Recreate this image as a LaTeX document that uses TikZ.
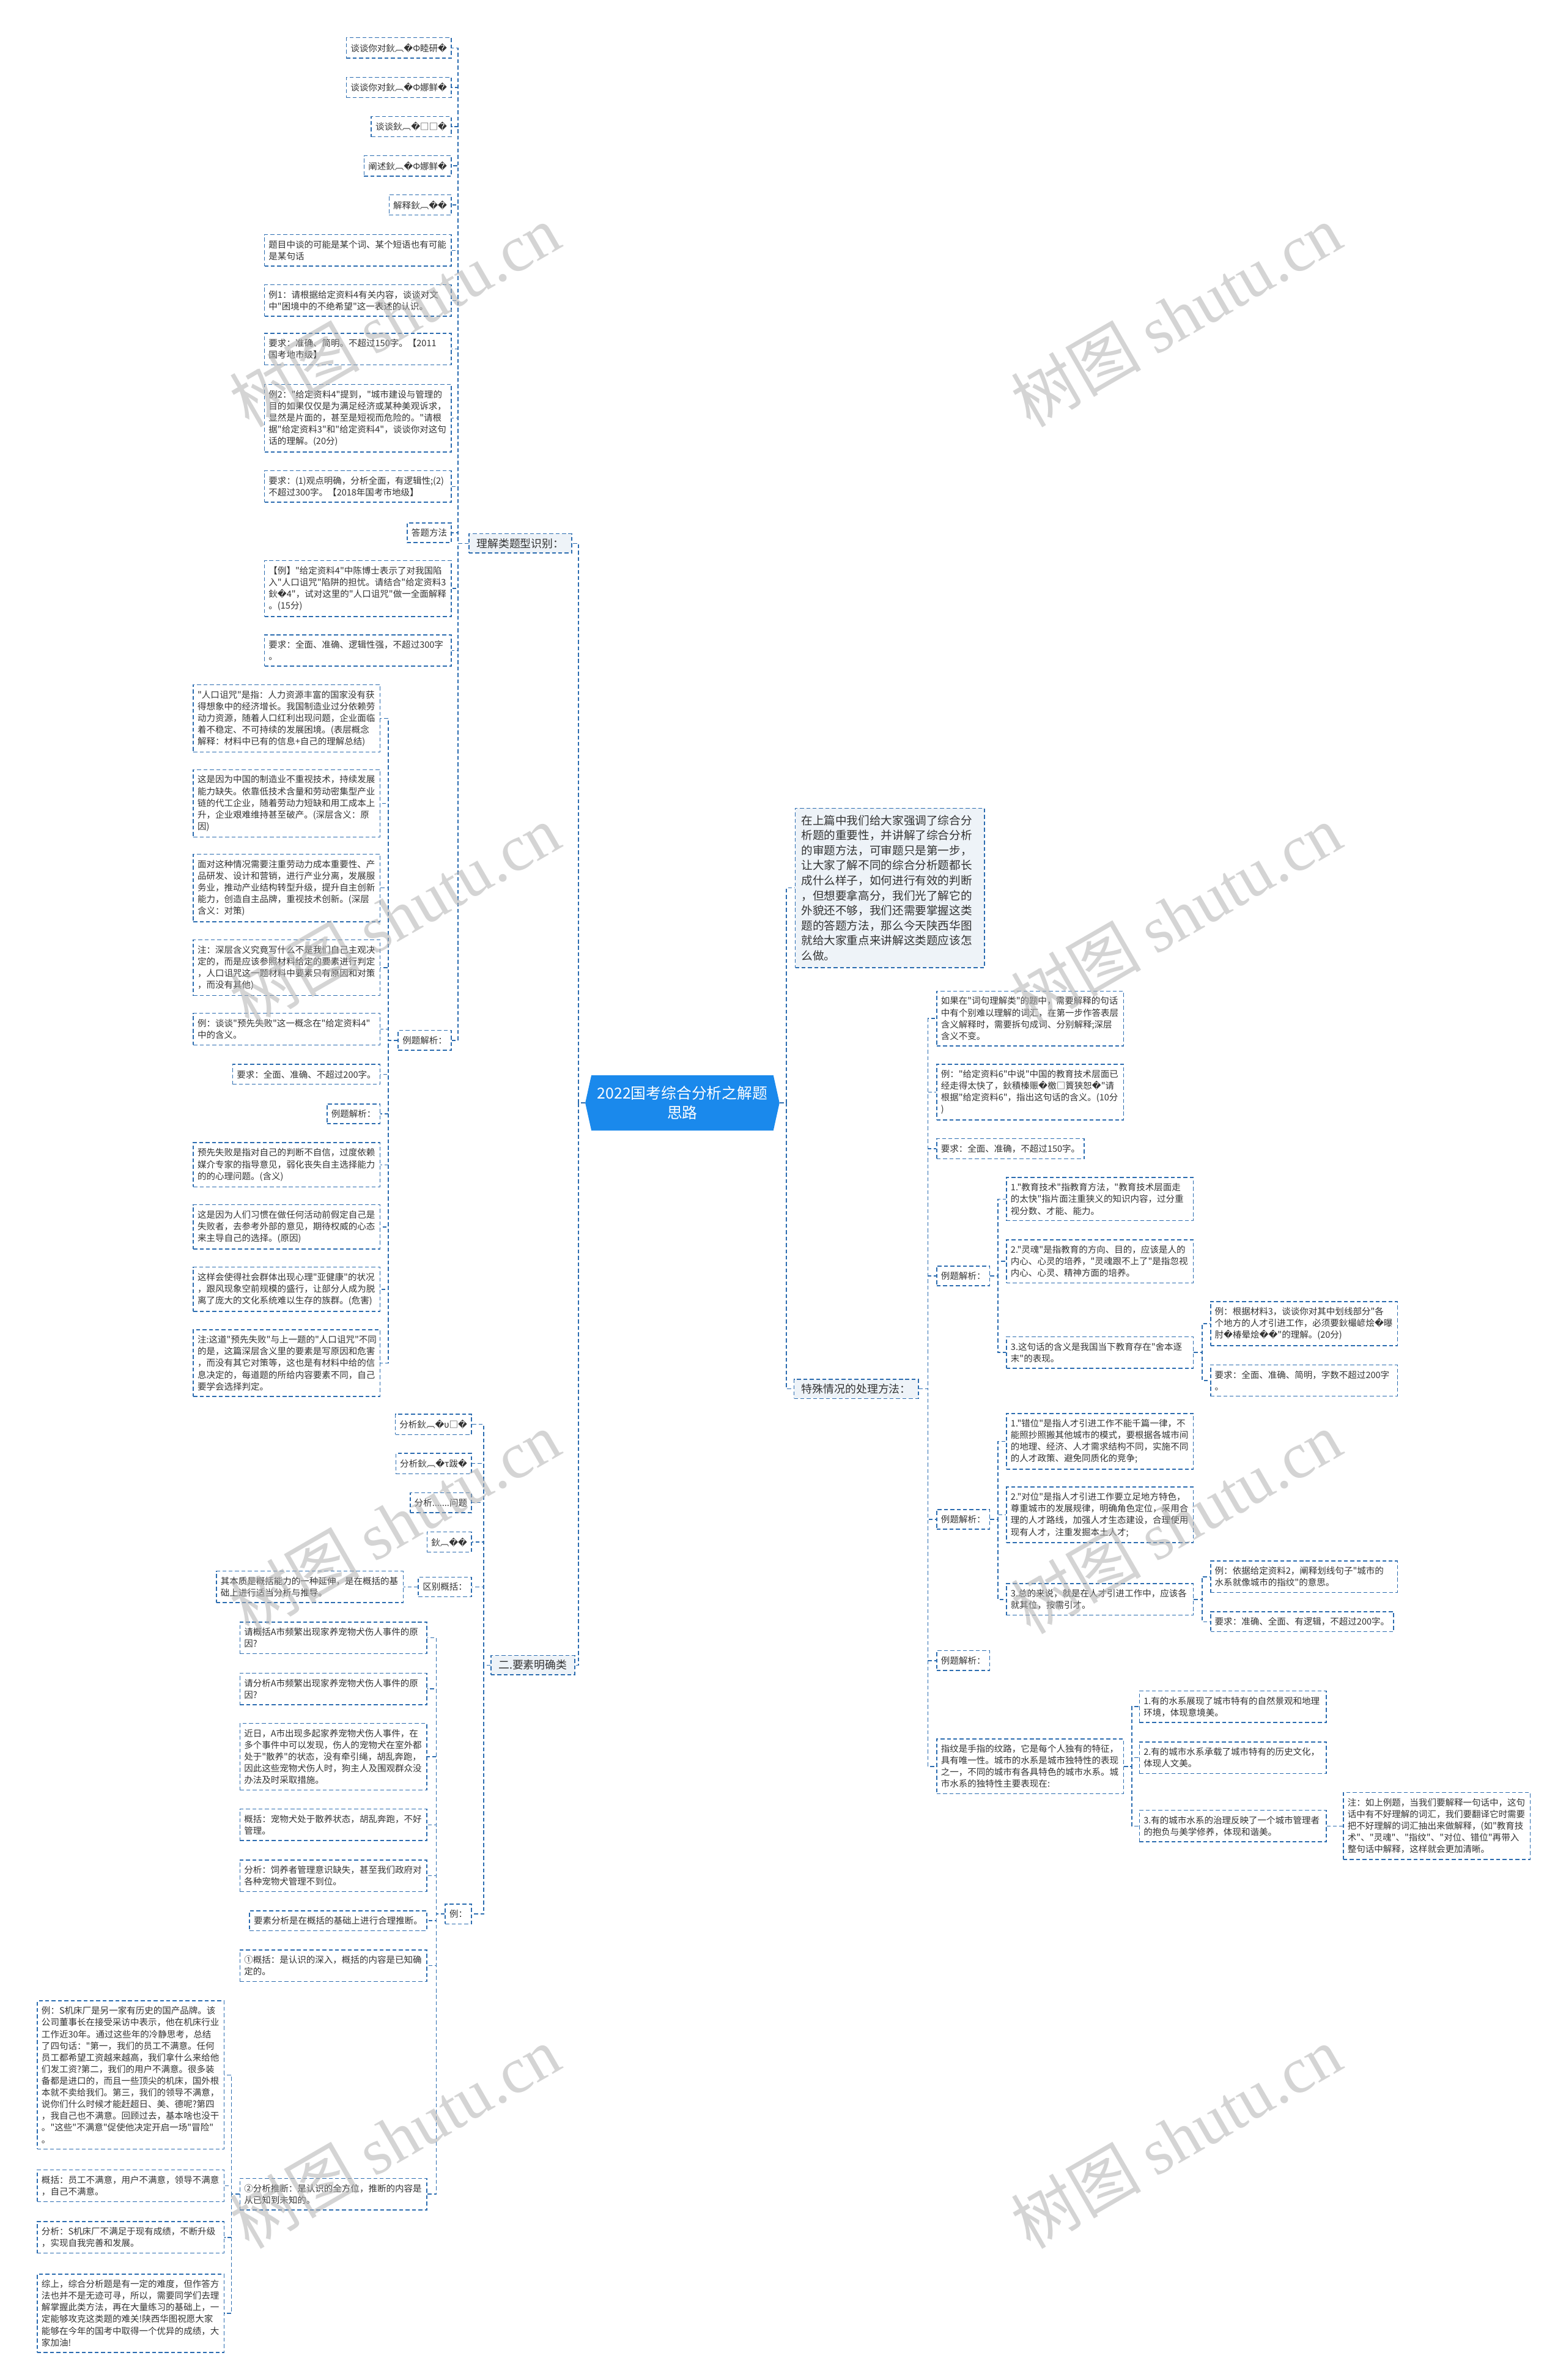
\documentclass[tikz,border=0pt]{standalone}
\usepackage{fontspec}
\setmainfont{Noto Sans CJK SC}[Ligatures=TeXOff]
\newfontfamily\dejavu{DejaVu Sans}
\newfontfamily\wmserif{Liberation Serif}
\usetikzlibrary{shapes.symbols}
\definecolor{lineblue}{HTML}{2B6CB0}
\definecolor{rootblue}{HTML}{1A89EC}
\definecolor{branchfill}{HTML}{EEF3F8}
\definecolor{txtgray}{HTML}{333333}
\newcommand{\rpc}{{\dejavu\char"FFFD}}
\tikzset{
 leafbase/.style={draw=lineblue, line width=0.6pt, dash pattern=on 2.6pt off 1.6pt, fill=white, text=txtgray, inner xsep=2.8pt, inner ysep=3.8pt, font=\fontsize{5.85}{7.7}\selectfont, align=left},
 leafbox/.style={leafbase, text width=117.5pt},
 shortbox/.style={leafbase},
 exbox/.style={leafbase, minimum width=35pt},
 branchbox/.style={leafbase, fill=branchfill, font=\fontsize{7.2}{9.2}\selectfont, inner xsep=5pt, inner ysep=3pt},
 introbox/.style={leafbase, fill=branchfill, font=\fontsize{7.5}{9.9}\selectfont, text width=116.6pt, inner xsep=4pt, inner ysep=4.5pt},
 rootbox/.style={signal, signal to=west and east, signal pointer angle=155, fill=rootblue, text=white, font=\fontsize{10}{13}\selectfont, align=center, minimum height=36.5pt, minimum width=128pt, inner sep=2pt},
 conn/.style={draw=lineblue, line width=0.6pt, dash pattern=on 2.6pt off 1.6pt},
 wm/.style={text=black!30, opacity=0.55, font=\fontsize{43}{43}\selectfont, rotate=30},
}
\begin{document}
\begin{tikzpicture}[x=1pt,y=-1pt]
\fill[white] (0,0) rectangle (1032,1568);
\useasboundingbox (0,0) rectangle (1032,1568);

% root
\node[rootbox] (root) at (449.7,726.6) {2022国考综合分析之解题\\思路};

% main branches
\node[branchbox, anchor=east] (b1) at (377,358) {理解类题型识别：};
\node[branchbox, anchor=east] (b2) at (379,1097) {二.要素明确类};
\node[introbox, anchor=west] (intro) at (523.8,585) {在上篇中我们给大家强调了综合分\\析题的重要性，并讲解了综合分析\\的审题方法，可审题只是第一步，\\让大家了解不同的综合分析题都长\\成什么样子，如何进行有效的判断\\，但想要拿高分，我们光了解它的\\外貌还不够，我们还需要掌握这类\\题的答题方法，那么今天陕西华图\\就给大家重点来讲解这类题应该怎\\么做。};
\node[branchbox, anchor=west] (spec) at (523,915) {特殊情况的处理方法：};

% b1 children
\node[shortbox, anchor=east] (n1) at (297.7,31.6) {谈谈你对鈥︹\rpc Ф睦研\rpc};
\node[shortbox, anchor=east] (n2) at (297.7,57.6) {谈谈你对鈥︹\rpc Ф娜鲜\rpc};
\node[shortbox, anchor=east] (n3) at (297.7,83.4) {谈谈鈥︹\rpc □□\rpc};
\node[shortbox, anchor=east] (n4) at (297.7,109.3) {阐述鈥︹\rpc Ф娜鲜\rpc};
\node[shortbox, anchor=east] (n5) at (297.7,135) {解释鈥︹\rpc\rpc};
\node[leafbox, anchor=east] (n6) at (297.7,165) {题目中谈的可能是某个词、某个短语也有可能\\是某句话};
\node[leafbox, anchor=east] (n7) at (297.7,198) {例1：请根据给定资料4有关内容，谈谈对文\\中"困境中的不绝希望"这一表述的认识。};
\node[leafbox, anchor=east] (n8) at (297.7,230) {要求：准确、简明。不超过150字。【2011\\国考地市级】};
\node[leafbox, anchor=east] (n9) at (297.7,275.5) {例2："给定资料4"提到，"城市建设与管理的\\目的如果仅仅是为满足经济或某种美观诉求，\\显然是片面的，甚至是短视而危险的。"请根\\据"给定资料3"和"给定资料4"，谈谈你对这句\\话的理解。(20分)};
\node[leafbox, anchor=east] (n10) at (297.7,320.5) {要求：(1)观点明确，分析全面，有逻辑性;(2)\\不超过300字。【2018年国考市地级】};
\node[shortbox, anchor=east] (n11) at (297.7,351) {答题方法};
\node[leafbox, anchor=east] (n12) at (297.7,387.7) {【例】"给定资料4"中陈博士表示了对我国陷\\入"人口诅咒"陷阱的担忧。请结合"给定资料3\\鈥\rpc 4"，试对这里的"人口诅咒"做一全面解释\\。(15分)};
\node[leafbox, anchor=east] (n13) at (297.7,428.6) {要求：全面、准确、逻辑性强，不超过300字\\。};
\node[exbox, anchor=east] (p1) at (297.7,685.4) {例题解析：};

% p1 children
\node[leafbox, anchor=east] (l1) at (250.8,473.3) {"人口诅咒"是指：人力资源丰富的国家没有获\\得想象中的经济增长。我国制造业过分依赖劳\\动力资源，随着人口红利出现问题，企业面临\\着不稳定、不可持续的发展困境。(表层概念\\解释：材料中已有的信息+自己的理解总结)};
\node[leafbox, anchor=east] (l2) at (250.8,529.3) {这是因为中国的制造业不重视技术，持续发展\\能力缺失。依靠低技术含量和劳动密集型产业\\链的代工企业，随着劳动力短缺和用工成本上\\升，企业艰难维持甚至破产。(深层含义：原\\因)};
\node[leafbox, anchor=east] (l3) at (250.8,585) {面对这种情况需要注重劳动力成本重要性、产\\品研发、设计和营销，进行产业分离，发展服\\务业，推动产业结构转型升级，提升自主创新\\能力，创造自主品牌，重视技术创新。(深层\\含义：对策)};
\node[leafbox, anchor=east] (l4) at (250.8,637.5) {注：深层含义究竟写什么不是我们自己主观决\\定的，而是应该参照材料给定的要素进行判定\\，人口诅咒这一题材料中要素只有原因和对策\\，而没有其他)};
\node[leafbox, anchor=east] (l5) at (250.8,678) {例：谈谈"预先失败"这一概念在"给定资料4"\\中的含义。};
\node[shortbox, anchor=east] (l6) at (250.8,707.8) {要求：全面、准确、不超过200字。};
\node[exbox, anchor=east] (l7) at (250.8,733.8) {例题解析：};
\node[leafbox, anchor=east] (l8) at (250.8,767.4) {预先失败是指对自己的判断不自信，过度依赖\\媒介专家的指导意见，弱化丧失自主选择能力\\的的心理问题。(含义)};
\node[leafbox, anchor=east] (l9) at (250.8,808.3) {这是因为人们习惯在做任何活动前假定自己是\\失败者，去参考外部的意见，期待权威的心态\\来主导自己的选择。(原因)};
\node[leafbox, anchor=east] (l10) at (250.8,849.4) {这样会使得社会群体出现心理"亚健康"的状况\\，跟风现象空前规模的盛行，让部分人成为脱\\离了庞大的文化系统难以生存的族群。(危害)};
\node[leafbox, anchor=east] (l11) at (250.8,898) {注:这道"预先失败"与上一题的"人口诅咒"不同\\的是，这篇深层含义里的要素是写原因和危害\\，而没有其它对策等，这也是有材料中给的信\\息决定的，每道题的所给内容要素不同，自己\\要学会选择判定。};

% b2 children
\node[shortbox, anchor=east] (m1) at (311,938.4) {分析鈥︹\rpc υ□\rpc};
\node[shortbox, anchor=east] (m2) at (311,964.2) {分析鈥︹\rpc τ跋\rpc};
\node[shortbox, anchor=east] (m3) at (311,990) {分析.......问题};
\node[shortbox, anchor=east] (m4) at (311,1015.9) {鈥︹\rpc\rpc};
\node[exbox, anchor=east] (m5) at (311,1045.5) {区别概括：};
\node[leafbox, anchor=east] (m5a) at (266,1045.5) {其本质是概括能力的一种延伸，是在概括的基\\础上进行适当分析与推导。};
\node[shortbox, anchor=east] (m6) at (311,1261) {例：};

% m6 children
\node[leafbox, anchor=east] (e1) at (281.5,1079) {请概括A市频繁出现家养宠物犬伤人事件的原\\因?};
\node[leafbox, anchor=east] (e2) at (281.5,1112.7) {请分析A市频繁出现家养宠物犬伤人事件的原\\因?};
\node[leafbox, anchor=east] (e3) at (281.5,1157.4) {近日，A市出现多起家养宠物犬伤人事件，在\\多个事件中可以发现，伤人的宠物犬在室外都\\处于"散养"的状态，没有牵引绳，胡乱奔跑，\\因此这些宠物犬伤人时，狗主人及围观群众没\\办法及时采取措施。};
\node[leafbox, anchor=east] (e4) at (281.5,1202.2) {概括：宠物犬处于散养状态，胡乱奔跑，不好\\管理。};
\node[leafbox, anchor=east] (e5) at (281.5,1235.8) {分析：饲养者管理意识缺失，甚至我们政府对\\各种宠物犬管理不到位。};
\node[shortbox, anchor=east] (e6) at (281.5,1265.4) {要素分析是在概括的基础上进行合理推断。};
\node[leafbox, anchor=east] (e7) at (281.5,1295) {①概括：是认识的深入，概括的内容是已知确\\定的。};
\node[leafbox, anchor=east] (e8) at (281.5,1445.5) {②分析推断：是认识的全方位，推断的内容是\\从已知到未知的。};

% e8 children
\node[leafbox, anchor=east] (s1) at (148,1367) {例：S机床厂是另一家有历史的国产品牌。该\\公司董事长在接受采访中表示，他在机床行业\\工作近30年。通过这些年的冷静思考，总结\\了四句话："第一，我们的员工不满意。任何\\员工都希望工资越来越高，我们拿什么来给他\\们发工资?第二，我们的用户不满意。很多装\\备都是进口的，而且一些顶尖的机床，国外根\\本就不卖给我们。第三，我们的领导不满意，\\说你们什么时候才能赶超日、美、德呢?第四\\，我自己也不满意。回顾过去，基本啥也没干\\。"这些"不满意"促使他决定开启一场"冒险"\\。};
\node[leafbox, anchor=east] (s2) at (148,1440) {概括：员工不满意，用户不满意，领导不满意\\，自己不满意。};
\node[leafbox, anchor=east] (s3) at (148,1474) {分析：S机床厂不满足于现有成绩，不断升级\\，实现自我完善和发展。};
\node[leafbox, anchor=east] (s4) at (148,1524) {综上，综合分析题是有一定的难度，但作答方\\法也并不是无迹可寻，所以，需要同学们去理\\解掌握此类方法，再在大量练习的基础上，一\\定能够攻克这类题的难关!陕西华图祝愿大家\\能够在今年的国考中取得一个优异的成绩，大\\家加油!};

% spec children
\node[leafbox, anchor=west] (r1) at (617,671) {如果在"词句理解类"的题中，需要解释的句话\\中有个别难以理解的词汇，在第一步作答表层\\含义解释时，需要拆句成词、分别解释;深层\\含义不变。};
\node[leafbox, anchor=west] (r2) at (617,719.5) {例："给定资料6"中说"中国的教育技术层面已\\经走得太快了，鈥積榛赈\rpc 檄□篢狭恕\rpc"请\\根据"给定资料6"，指出这句话的含义。(10分\\)};
\node[shortbox, anchor=west] (r3) at (617,756.8) {要求：全面、准确，不超过150字。};
\node[exbox, anchor=west] (ra) at (617,840.6) {例题解析：};
\node[exbox, anchor=west] (rb) at (617,1001) {例题解析：};
\node[exbox, anchor=west] (rc) at (617,1094) {例题解析：};
\node[leafbox, anchor=west] (r4) at (617,1163.7) {指纹是手指的纹路，它是每个人独有的特征，\\具有唯一性。城市的水系是城市独特性的表现\\之一，不同的城市有各具特色的城市水系。城\\市水系的独特性主要表现在:};

% ra children
\node[leafbox, anchor=west] (ra1) at (663,790) {1."教育技术"指教育方法，"教育技术层面走\\的太快"指片面注重狭义的知识内容，过分重\\视分数、才能、能力。};
\node[leafbox, anchor=west] (ra2) at (663,831) {2."灵魂"是指教育的方向、目的，应该是人的\\内心、心灵的培养，"灵魂跟不上了"是指忽视\\内心、心灵、精神方面的培养。};
\node[leafbox, anchor=west] (ra3) at (663,891) {3.这句话的含义是我国当下教育存在"舍本逐\\末"的表现。};
\node[leafbox, anchor=west] (ra3a) at (797.5,872) {例：根据材料3，谈谈你对其中划线部分"各\\个地方的人才引进工作，必须要鈥樶嵃烩\rpc 曝\\肘\rpc 椿晕烩\rpc\rpc"的理解。(20分)};
\node[leafbox, anchor=west] (ra3b) at (797.5,909.5) {要求：全面、准确、简明，字数不超过200字\\。};

% rb children
\node[leafbox, anchor=west] (rb1) at (663,949.6) {1."错位"是指人才引进工作不能千篇一律，不\\能照抄照搬其他城市的模式，要根据各城市间\\的地理、经济、人才需求结构不同，实施不同\\的人才政策、避免同质化的竞争;};
\node[leafbox, anchor=west] (rb2) at (663,998) {2."对位"是指人才引进工作要立足地方特色，\\尊重城市的发展规律，明确角色定位，采用合\\理的人才路线，加强人才生态建设，合理使用\\现有人才，注重发掘本土人才;};
\node[leafbox, anchor=west] (rb3) at (663,1053.7) {3.总的来说，就是在人才引进工作中，应该各\\就其位，按需引才。};
\node[leafbox, anchor=west] (rb3a) at (797.5,1038.8) {例：依据给定资料2，阐释划线句子"城市的\\水系就像城市的指纹"的意思。};
\node[shortbox, anchor=west] (rb3b) at (797.5,1068.4) {要求：准确、全面、有逻辑，不超过200字。};

% r4 children
\node[leafbox, anchor=west] (r4a) at (750.6,1124.4) {1.有的水系展现了城市特有的自然景观和地理\\环境，体现意境美。};
\node[leafbox, anchor=west] (r4b) at (750.6,1158) {2.有的城市水系承载了城市特有的历史文化，\\体现人文美。};
\node[leafbox, anchor=west] (r4c) at (750.6,1203) {3.有的城市水系的治理反映了一个城市管理者\\的抱负与美学修养，体现和谐美。};
\node[leafbox, anchor=west] (r4c1) at (885,1203) {注：如上例题，当我们要解释一句话中，这句\\话中有不好理解的词汇，我们要翻译它时需要\\把不好理解的词汇抽出来做解释，(如"教育技\\术"、"灵魂"、"指纹"、"对位、错位"再带入\\整句话中解释，这样就会更加清晰。};

% connectors
\foreach \c in {b1,b2} \draw[conn] (root.west) -- ++(-4.2,0) |- (\c.east);
\foreach \c in {intro,spec} \draw[conn] (root.east) -- ++(4.3,0) |- (\c.west);
\foreach \c in {n1,n2,n3,n4,n5,n6,n7,n8,n9,n10,n11,n12,n13,p1} \draw[conn] (b1.west) -- ++(-7,0) |- (\c.east);
\foreach \c in {l1,l2,l3,l4,l5,l6,l7,l8,l9,l10,l11} \draw[conn] (p1.west) -- ++(-6.2,0) |- (\c.east);
\foreach \c in {m1,m2,m3,m4,m5,m6} \draw[conn] (b2.west) -- ++(-4.5,0) |- (\c.east);
\draw[conn] (m5.west) -- (m5a.east);
\foreach \c in {e1,e2,e3,e4,e5,e6,e7,e8} \draw[conn] (m6.west) -- ++(-5.5,0) |- (\c.east);
\foreach \c in {s1,s2,s3,s4} \draw[conn] (e8.west) -- ++(-5.2,0) |- (\c.east);
\foreach \c in {r1,r2,r3,ra,rb,rc,r4} \draw[conn] (spec.east) -- ++(6,0) |- (\c.west);
\foreach \c in {ra1,ra2,ra3} \draw[conn] (ra.east) -- ++(5,0) |- (\c.west);
\foreach \c in {rb1,rb2,rb3} \draw[conn] (rb.east) -- ++(5,0) |- (\c.west);
\foreach \c in {ra3a,ra3b} \draw[conn] (ra3.east) -- ++(5.5,0) |- (\c.west);
\foreach \c in {rb3a,rb3b} \draw[conn] (rb3.east) -- ++(5.5,0) |- (\c.west);
\foreach \c in {r4a,r4b,r4c} \draw[conn] (r4.east) -- ++(5.2,0) |- (\c.west);
\draw[conn] (r4c.east) -- (r4c1.west);

% watermarks
\node[wm] (wm1) at (260,208) {树图 {\wmserif shutu.cn}};
\node[wm] (wm2) at (775,208) {树图 {\wmserif shutu.cn}};
\node[wm] (wm3) at (260,603) {树图 {\wmserif shutu.cn}};
\node[wm] (wm4) at (775,603) {树图 {\wmserif shutu.cn}};
\node[wm] (wm5) at (260,1003) {树图 {\wmserif shutu.cn}};
\node[wm] (wm6) at (775,1003) {树图 {\wmserif shutu.cn}};
\node[wm] (wm7) at (260,1408) {树图 {\wmserif shutu.cn}};
\node[wm] (wm8) at (775,1408) {树图 {\wmserif shutu.cn}};
\end{tikzpicture}
\end{document}
